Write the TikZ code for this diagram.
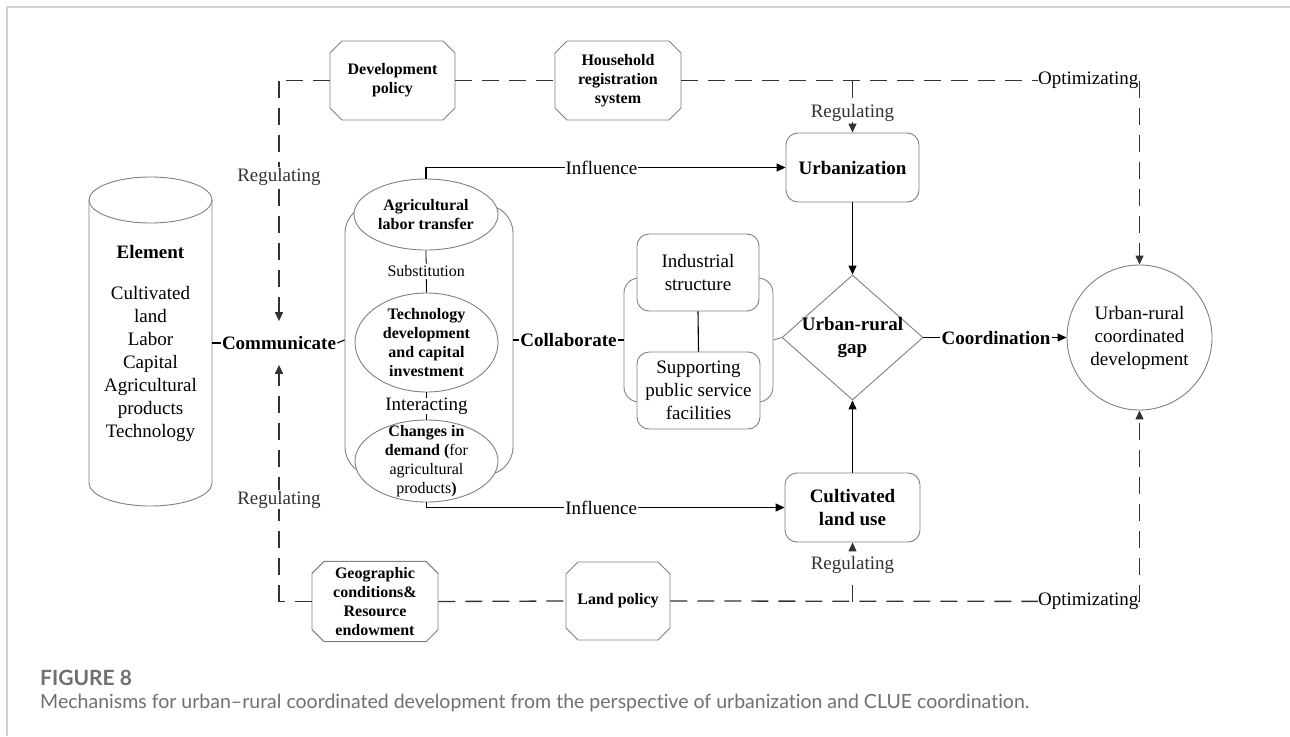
\documentclass[tikz,border=0pt]{standalone}
\usepackage{fontspec}
\setmainfont{Liberation Serif}
\newfontfamily\capfont[Ligatures=NoCommon]{Lato}
\usetikzlibrary{shapes.geometric,shapes.misc,arrows.meta,calc}
\definecolor{shapegray}{RGB}{128,128,128}
\definecolor{dashcol}{RGB}{50,50,50}
\definecolor{framec}{RGB}{210,210,210}
\definecolor{capgray}{RGB}{112,112,112}
\newcommand\szA{\fontsize{19}{23}\selectfont}
\newcommand\szB{\fontsize{16}{19}\selectfont}
\begin{document}
\begin{tikzpicture}[x=1pt,y=-1pt,
  outl/.style={draw=shapegray, line width=0.9pt},
  txtA/.style={font=\szA, align=center, inner sep=0pt},
  txtAb/.style={font=\szA\bfseries, align=center, inner sep=0pt},
  txtBb/.style={font=\szB\bfseries, align=center, inner sep=0pt},
  rbox/.style={outl, fill=white, rectangle, rounded corners=12pt, inner sep=0pt, align=center},
  octbox/.style={outl, fill=white, chamfered rectangle, chamfered rectangle xsep=6pt, chamfered rectangle ysep=6pt, inner sep=0pt, align=center, font=\szB\bfseries},
  conn/.style={line width=1.1pt, black},
  dline/.style={line width=1.3pt, dashcol, dash pattern=on 17pt off 10pt},
  arr/.style={-{Triangle[length=9pt,width=8pt]}},
  lab/.style={fill=white, inner sep=1pt, font=\szA},
  labs/.style={fill=white, inner sep=1pt, font=\szB}
]
\useasboundingbox (0,0) rectangle (1290,736);
\fill[white] (0,0) rectangle (1290,736);
\draw[framec, line width=1.2pt] (7,736) -- (7,7) -- (1290,7);

% ---- Element cylinder
\draw[outl] (89,200) -- (89,483) arc[start angle=180, end angle=0, x radius=61.5, y radius=23] -- (212,200);
\draw[outl] (150.5,200) ellipse[x radius=61.5, y radius=23];
\node[txtA, minimum width=123pt, minimum height=329pt] (elem) at (150.5,343)
  {\textbf{Element}\\[18pt]Cultivated\\land\\Labor\\Capital\\Agricultural\\products\\Technology};

% ---- middle container and ellipses
\node[outl, rectangle, rounded corners=28pt, minimum width=168pt, minimum height=270pt] (midc) at (429,340) {};
\node[outl, fill=white, ellipse, minimum width=144pt, minimum height=71pt, inner sep=0pt] (alt) at (426,214.5) {};
\node[outl, fill=white, ellipse, minimum width=143pt, minimum height=99pt, inner sep=0pt] (tech) at (426.5,342.5) {};
\node[outl, fill=white, ellipse, minimum width=143pt, minimum height=82pt, inner sep=0pt] (chg) at (426.5,461) {};
\node[txtBb] (altt) at (alt.center) {Agricultural\\labor transfer};
\node[txtBb] (techt) at (tech.center) {Technology\\development\\and capital\\investment};
\node[font=\szB, align=center, inner sep=0pt] (chgt) at (426.5,461) {\textbf{Changes in}\\\textbf{demand (}for\\agricultural\\products\textbf{)}};
\draw[line width=0.8pt] (alt.south) -- node[labs, inner sep=2pt] (subst) {Substitution} (tech.north);
\draw[line width=0.8pt] (tech.south) -- node[lab, inner sep=0pt] (inter) {Interacting} (chg.north);

% ---- inner container
\node[outl, rectangle, rounded corners=15pt, minimum width=149pt, minimum height=124pt] (inc) at (698.5,340) {};
\node[rbox, font=\szA, minimum width=122pt, minimum height=77pt] (ind) at (698,272.5) {Industrial\\structure};
\node[rbox, font=\szA, minimum width=123pt, minimum height=77pt] (sup) at (698.5,390.5) {Supporting\\public service\\facilities};
\draw[conn] (ind.south) -- (sup.north);

% ---- right part
\node[rbox, font=\szA\bfseries, minimum width=133pt, minimum height=69pt] (urb) at (852.5,167.5) {Urbanization};
\node[rbox, font=\szA\bfseries, minimum width=135pt, minimum height=69pt] (clu) at (852.5,507.5) {Cultivated\\land use};
\node[outl, fill=white, diamond, minimum width=141pt, minimum height=125pt, inner sep=0pt] (dia) at (852.5,337.5) {};
\node[txtAb] (diat) at (dia.center) {Urban-rural\\gap};
\node[outl, circle, minimum size=145pt, inner sep=0pt, align=center, font=\szA] (circ) at (1139.5,337.5) {Urban-rural\\coordinated\\development};

% ---- octagon boxes
\node[octbox, minimum width=125pt, minimum height=79pt] (devpol) at (392.5,80.5) {Development\\policy};
\node[octbox, minimum width=126pt, minimum height=79pt] (hrs) at (618,80.5) {Household\\registration\\system};
\node[octbox, minimum width=126pt, minimum height=79pt] (geo) at (375,601.5) {Geographic\\conditions\&\\Resource\\endowment};
\node[octbox, minimum width=104pt, minimum height=78pt] (land) at (618,601) {Land policy};

% ---- labels on the main row
\node[font=\szA\bfseries, inner xsep=1pt, inner ysep=15pt] (comm) at (279,343) {Communicate};
\node[font=\szA\bfseries, inner xsep=1pt, inner ysep=4pt] (collab) at (568.5,340) {Collaborate};
\node[font=\szA\bfseries, inner xsep=1pt, inner ysep=4pt] (coord) at (996,337.5) {Coordination};

% ---- solid connectors
\draw[conn] (elem.east) -- (comm.west);
\draw[conn] (comm.east) -- (midc.west);
\draw[conn] (midc.east) -- (collab.west);
\draw[conn] (collab.east) -- (inc.west);
\draw[outl] (inc.east) -- (dia.west);
\draw[conn] (dia.east) -- (coord.west);
\draw[conn, arr] (coord.east) -- (circ.west);
\draw[conn, arr] (alt.north) |- node[lab, pos=0.744] (infl1) {Influence} (urb.west);
\draw[conn, arr] (chg.south) |- node[lab, pos=0.744] (infl2) {Influence} (clu.west);
\draw[conn, arr] (urb.south) -- (dia.north);
\draw[conn, arr] (clu.north) -- (dia.south);

% ---- dashed regulating / optimizing lines
\coordinate (tl) at (279,80.5);
\coordinate (tj) at (852.5,80.5);
\coordinate (tr) at (1139.5,80.5);
\coordinate (bl) at (279,601.5);
\coordinate (bj) at (852.5,601.5);
\coordinate (br) at (1139.5,601.5);
\draw[dline] (devpol.west) -- (tl);
\draw[dline, arr] (tl) -- node[lab, pos=0.40] (reg1) {Regulating} (comm.north);
\draw[dline] (devpol.east) -- (hrs.west);
\draw[dline] (hrs.east) -- (tr);
\draw[dline, arr] (tr) -- (circ.north);
\draw[dline, arr] (tj) -- node[lab, pos=0.62] (reg2) {Regulating} (urb.north);
\draw[dline] (geo.west) -- (bl);
\draw[dline, arr] (bl) -- node[lab, pos=0.43] (reg3) {Regulating} (comm.south);
\draw[dline] (geo.east) -- (land.west);
\draw[dline] (land.east) -- (br);
\draw[dline, arr] (br) -- (circ.south);
\draw[dline, arr] (bj) -- node[lab, pos=0.62] (reg4) {Regulating} (clu.south);
\node[lab, anchor=east, inner sep=0pt] (opt1) at ($(tr)+(-1,0)$) {Optimizating};
\node[lab, anchor=east, inner sep=0pt] (opt2) at ($(br)+(-1,0)$) {Optimizating};

% ---- caption
\node[anchor=west, inner sep=0pt, text=capgray, font=\capfont\bfseries\fontsize{21}{24}\selectfont] (fig) at (40,678) {FIGURE 8};
\node[anchor=west, inner sep=0pt, text=capgray, font=\capfont\fontsize{19}{23}\selectfont] (cap) at (40,703)
  {\resizebox{989pt}{!}{Mechanisms for urban–rural coordinated development from the perspective of urbanization and CLUE coordination.}};
\end{tikzpicture}
\end{document}
